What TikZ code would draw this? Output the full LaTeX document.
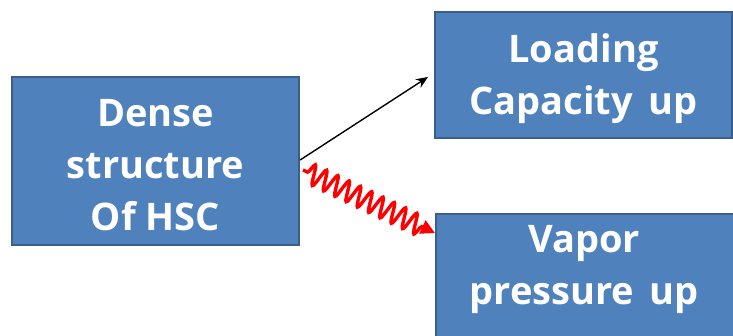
\documentclass[tikz,border=0pt]{standalone}
\usepackage{fontspec}
\setmainfont{Open Sans}[BoldFont={* Bold}]
\usetikzlibrary{decorations.pathmorphing,arrows.meta}
\definecolor{boxfill}{HTML}{4F81BD}
\definecolor{boxline}{HTML}{3A5F8B}
\tikzset{boxfont/.style={font=\bfseries\fontsize{38}{52}\selectfont}}
\begin{document}
\begin{tikzpicture}[x=1pt,y=-1pt,
  box/.style={draw=boxline,line width=2.2pt,fill=boxfill,text=white,
    boxfont,align=center,inner sep=0pt},
  plainarrow/.style={line width=1.4pt,-{Stealth[length=12pt,width=10pt]}},
  wavyarrow/.style={red,line width=3.4pt,-{Triangle[length=14pt,width=14pt]},
    decorate,decoration={snake,segment length=12.5pt,amplitude=10pt,pre length=5pt,post length=13pt}}]
\useasboundingbox (0,0) rectangle (733,336);
\node[box,minimum width=287pt,minimum height=168pt] (hsc) at (155.5,161) {};
\node[white,boxfont,align=center] (hsctext) at (155.5,165) {Dense\\structure\\Of HSC};
\node[box,minimum width=297pt,minimum height=126pt] (load) at (583.5,75) {};
\node[white,boxfont,align=center] (loadtext) at (583.5,79) {Loading\\Capacity\hspace{0.4em}up};
\node[box,minimum width=310pt,minimum height=150pt,anchor=north west] (vapor) at (435,213) {};
\node[white,boxfont,align=center,anchor=north] (vtext) at (584,222) {Vapor\\pressure\hspace{0.4em}up};
\coordinate (ltip) at (428,77);
\coordinate (ws) at (303,170);
\coordinate (wt) at (435,233);
\draw[plainarrow] (hsc.east |- 0,160) -- (ltip);
\draw[wavyarrow] (ws) -- (wt);
\end{tikzpicture}
\end{document}
